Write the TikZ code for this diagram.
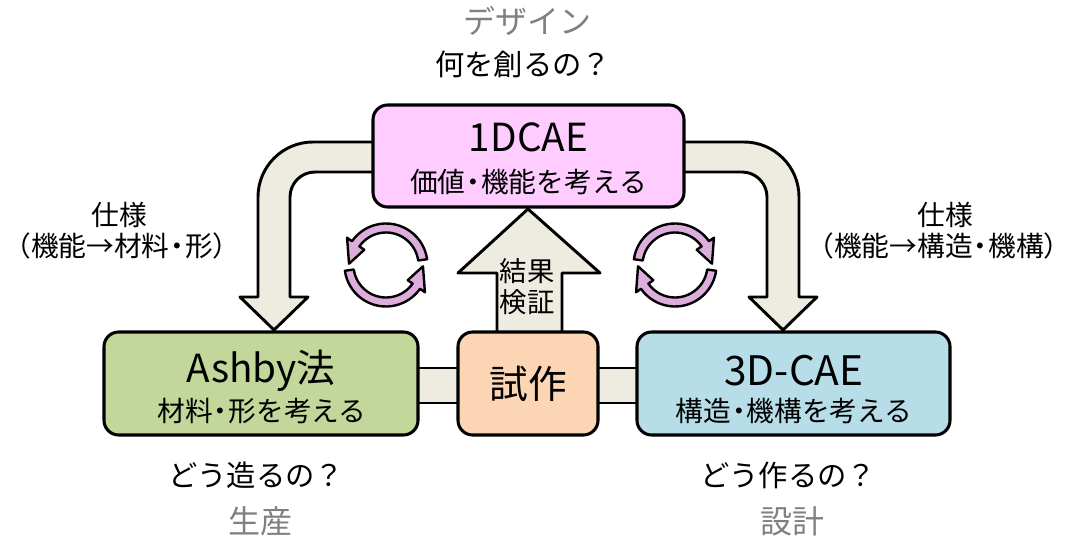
\documentclass[tikz,border=0pt]{standalone}
\usepackage{fontspec}
\setmainfont{Noto Sans CJK JP}
\definecolor{pinkbox}{HTML}{FFCCFF}
\definecolor{greenbox}{HTML}{C4D79B}
\definecolor{peachbox}{HTML}{FCD5B5}
\definecolor{bluebox}{HTML}{B7DEE8}
\definecolor{beigearrow}{HTML}{EEECE1}
\definecolor{cyclefill}{HTML}{DDAEDD}
\definecolor{graytext}{HTML}{808080}
\newcommand\mySmall{\fontsize{20.8pt}{24pt}\selectfont}
\newcommand\mySpec{\fontsize{20.8pt}{25pt}\selectfont}
\newcommand\myQ{\fontsize{22pt}{26pt}\selectfont}
\newcommand\myGray{\fontsize{24pt}{28pt}\selectfont}
\newcommand\myMid{\fontsize{20.5pt}{24pt}\selectfont}
\newcommand\myBig{\fontsize{29pt}{33pt}\selectfont}
\newcommand\myBigB{\fontsize{30.5pt}{34pt}\selectfont}
\newcommand\dt{\kern-0.22em・\kern-0.22em}
\newcommand\cyclearrow[4]{%
  \draw[cyclestyle,shift={(#1)}] (#2:41.5) arc[start angle=#2, end angle=#3, radius=41.5]
    -- (#3:47.5) -- (#4:37) -- (#3:26.5) -- (#3:32.5)
    arc[start angle=#3, end angle=#2, radius=32.5] -- cycle;}
\begin{document}
\begin{tikzpicture}[x=0.75pt,y=-0.75pt,
  box/.style={draw=black,line width=2.3pt,rounded corners=11pt,inner sep=0pt},
  blockarrow/.style={draw=black,line width=2.2pt,fill=beigearrow,line join=round},
  cyclestyle/.style={draw=black,line width=1.8pt,fill=cyclefill,line join=round},
  lbl/.style={inner sep=0pt,align=center},
  gray/.style={text=graytext}]
\useasboundingbox (0,0) rectangle (1075,542);

% coordinates
\coordinate (cL) at (386,265);
\coordinate (cR) at (675,265);

% L-shaped arrows
\draw[blockarrow] (400,142) -- (313,142) arc[start angle=-90, end angle=-180, radius=55]
  -- (258,297) -- (240,297) -- (274,330) -- (308,297) -- (290,297) -- (290,197)
  arc[start angle=180, end angle=270, radius=25] -- (400,172) -- cycle;
\draw[blockarrow] (657,142) -- (744,142) arc[start angle=-90, end angle=0, radius=55]
  -- (799,297) -- (817,297) -- (783,330) -- (749,297) -- (767,297) -- (767,197)
  arc[start angle=0, end angle=-90, radius=25] -- (657,172) -- cycle;
% up arrow
\draw[blockarrow] (497,350) -- (497,273) -- (458,273) -- (528,209) -- (600,273) -- (562,273) -- (562,350) -- cycle;
% connector bars
\draw[blockarrow] (400,368) rectangle (475,403);
\draw[blockarrow] (580,368) rectangle (655,403);

% boxes
\node[box,fill=pinkbox,minimum width=311*0.75pt,minimum height=102*0.75pt] (top) at (528.5,156) {};
\node[box,fill=greenbox,minimum width=314*0.75pt,minimum height=103*0.75pt] (ashby) at (261,383.5) {};
\node[box,fill=peachbox,minimum width=140*0.75pt,minimum height=103*0.75pt] (proto) at (528,383.5) {};
\node[box,fill=bluebox,minimum width=313*0.75pt,minimum height=103*0.75pt] (cae) at (793.5,383.5) {};

% cycle arrows
\cyclearrow{cL}{-8}{-145}{-178}
\cyclearrow{cL}{172}{35}{2}
\cyclearrow{cR}{-172}{-35}{-2}
\cyclearrow{cR}{8}{145}{178}

% texts
\node[lbl,gray] (design) at (527,21) {\myGray デザイン};
\node[lbl] (what) at (523,64) {\myQ 何を創るの？};
\node[lbl] (t1) at (528.5,137) {\myBig 1DCAE};
\node[lbl] (t2) at (528.5,182) {\mySmall 価値\dt 機能を考える};
\node[lbl] (specL1) at (119,215) {\mySpec 仕様};
\node[lbl] (specL2) at (122,246) {\mySpec （機能→材料\dt 形）};
\node[lbl] (specR1) at (945,215) {\mySpec 仕様};
\node[lbl] (specR2) at (939,246) {\mySpec （機能→構造\dt 機構）};
\node[lbl] (res1) at (527,271) {\myMid 結果};
\node[lbl] (res2) at (527,302) {\myMid 検証};
\node[lbl] (a1) at (261,371) {\myBig Ashby法};
\node[lbl] (a2) at (262,411) {\mySmall 材料\dt 形を考える};
\node[lbl] (p1) at (528,384) {\myBig 試作};
\node[lbl] (c1) at (794,371) {\myBigB 3D-CAE};
\node[lbl] (c2) at (794,411) {\mySmall 構造\dt 機構を考える};
\node[lbl] (howL) at (256,475) {\myQ どう造るの？};
\node[lbl,gray] (prod) at (260,521) {\myGray 生産};
\node[lbl] (howR) at (788,475) {\myQ どう作るの？};
\node[lbl,gray] (desn) at (792,521) {\myGray 設計};
\end{tikzpicture}
\end{document}
